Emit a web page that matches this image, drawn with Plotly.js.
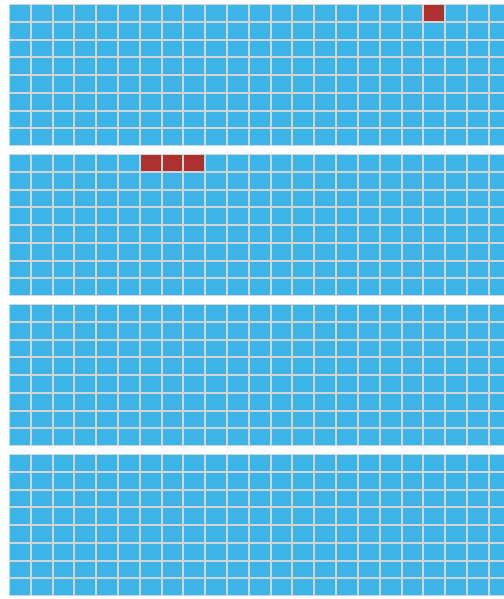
<!DOCTYPE html>
<html>
<head>
<meta charset="utf-8">
<script src="https://cdn.plot.ly/plotly-3.0.1.min.js"></script>
<style>html,body{margin:0;padding:0;background:#fff;overflow:hidden}#chart{width:504px;height:599px}</style>
</head>
<body>
<div id="chart"></div>
<script>
// Waffle panels: 8 rows x 25 columns each; highlighted cells as [row, col]
const nRows = 8;
const nCols = 25;
const panel1Highlighted = [[0, 19]];
const panel2Highlighted = [[0, 6], [0, 7], [0, 8]];
const panel3Highlighted = [];
const panel4Highlighted = [];
const panels = [panel1Highlighted, panel2Highlighted, panel3Highlighted, panel4Highlighted];

const blue = '#3db4e8';
const red = '#ad3131';

function buildZ(hl) {
  const z = [];
  for (let r = 0; r < nRows; r++) {
    const row = [];
    for (let c = 0; c < nCols; c++) row.push(0);
    z.push(row);
  }
  hl.forEach(([r, c]) => { z[r][c] = 1; });
  return z;
}

const totalH = 593;
const panelH = 142, gap = 8;
const traces = [];
const layout = {
  width: 504, height: 599,
  margin: {l: 9, r: 0, t: 4, b: 2, pad: 0},
  paper_bgcolor: '#ffffff',
  plot_bgcolor: '#d3d3d3',
  showlegend: false
};
panels.forEach((hl, i) => {
  const idx = i === 0 ? '' : String(i + 1);
  traces.push({
    type: 'heatmap',
    z: buildZ(hl),
    xaxis: 'x' + idx,
    yaxis: 'y' + idx,
    colorscale: [[0, blue], [1, red]],
    zmin: 0, zmax: 1,
    showscale: false,
    xgap: 2, ygap: 2,
    hoverinfo: 'skip'
  });
  const top = 1 - (i * (panelH + gap)) / totalH;
  const bottom = Math.max(0, 1 - (i * (panelH + gap) + panelH) / totalH);
  layout['xaxis' + idx] = {
    domain: [0, 1], range: [-0.5, 22.2], anchor: 'y' + idx,
    showgrid: false, zeroline: false, showticklabels: false, ticks: '', showline: false, fixedrange: true
  };
  layout['yaxis' + idx] = {
    domain: [bottom, top], range: [nRows - 0.5, -0.5], anchor: 'x' + idx,
    showgrid: false, zeroline: false, showticklabels: false, ticks: '', showline: false, fixedrange: true
  };
});

Plotly.newPlot('chart', traces, layout, {displayModeBar: false, staticPlot: true});
</script>
</body>
</html>
